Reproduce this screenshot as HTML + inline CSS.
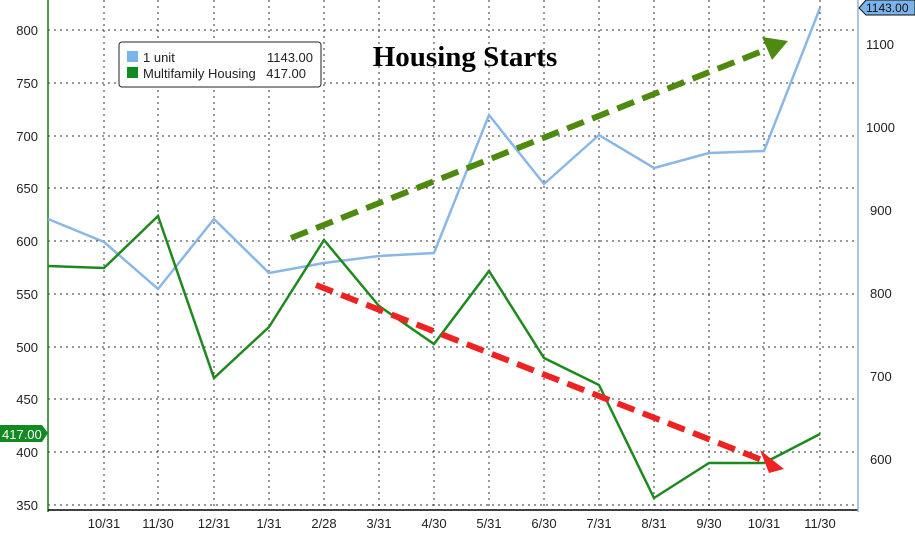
<!DOCTYPE html>
<html><head><style>body{margin:0;background:#fff}svg{display:block}</style></head><body>
<svg width="915" height="546" xmlns="http://www.w3.org/2000/svg" font-family="Liberation Sans, sans-serif">
<rect width="915" height="546" fill="#fff"/>
<g stroke="#333" stroke-width="1" stroke-dasharray="2,4">
<line x1="48" y1="30" x2="858" y2="30"/><line x1="48" y1="83" x2="858" y2="83"/><line x1="48" y1="136" x2="858" y2="136"/><line x1="48" y1="188" x2="858" y2="188"/><line x1="48" y1="241" x2="858" y2="241"/><line x1="48" y1="294" x2="858" y2="294"/><line x1="48" y1="347" x2="858" y2="347"/><line x1="48" y1="399" x2="858" y2="399"/><line x1="48" y1="452" x2="858" y2="452"/><line x1="48" y1="505" x2="858" y2="505"/>
<line x1="104" y1="0" x2="104" y2="510"/><line x1="158" y1="0" x2="158" y2="510"/><line x1="214" y1="0" x2="214" y2="510"/><line x1="269" y1="0" x2="269" y2="510"/><line x1="324" y1="0" x2="324" y2="510"/><line x1="379" y1="0" x2="379" y2="510"/><line x1="434" y1="0" x2="434" y2="510"/><line x1="489" y1="0" x2="489" y2="510"/><line x1="544" y1="0" x2="544" y2="510"/><line x1="599" y1="0" x2="599" y2="510"/><line x1="654" y1="0" x2="654" y2="510"/><line x1="709" y1="0" x2="709" y2="510"/><line x1="764" y1="0" x2="764" y2="510"/><line x1="820" y1="0" x2="820" y2="510"/>
</g>
<line x1="48" y1="0" x2="48" y2="512" stroke="#1a7a1a" stroke-width="1.5"/>
<line x1="48" y1="510" x2="858" y2="510" stroke="#000" stroke-width="1.5"/>
<line x1="858" y1="0" x2="858" y2="512" stroke="#8ab4e0" stroke-width="1.5"/>
<g font-size="13" fill="#222" text-anchor="end">
<text x="38" y="35">800</text><text x="38" y="88">750</text><text x="38" y="141">700</text><text x="38" y="193">650</text><text x="38" y="246">600</text><text x="38" y="299">550</text><text x="38" y="352">500</text><text x="38" y="404">450</text><text x="38" y="457">400</text><text x="38" y="510">350</text>
</g>
<g font-size="13" fill="#222">
<text x="866" y="49">1100</text><text x="866" y="132">1000</text><text x="870" y="215">900</text><text x="870" y="298">800</text><text x="870" y="381">700</text><text x="870" y="464">600</text>
</g>
<g font-size="13" fill="#222" text-anchor="middle">
<text x="104" y="528">10/31</text><text x="158" y="528">11/30</text><text x="214" y="528">12/31</text><text x="269" y="528">1/31</text><text x="324" y="528">2/28</text><text x="379" y="528">3/31</text><text x="434" y="528">4/30</text><text x="489" y="528">5/31</text><text x="544" y="528">6/30</text><text x="599" y="528">7/31</text><text x="654" y="528">8/31</text><text x="709" y="528">9/30</text><text x="764" y="528">10/31</text><text x="820" y="528">11/30</text>
</g>
<polyline fill="none" stroke="#8ab8e6" stroke-width="2.5" points="48,219 104,242 158,289 214,219 269,273 324,263 379,256 434,253 489,115 544,184 599,135 654,168 709,153 764,151 820,8"/>
<polyline fill="none" stroke="#1e8a1e" stroke-width="2.5" points="48,266 104,268 158,216 214,378 269,327 324,240 379,306 434,344 489,271 544,358 599,385 654,498 709,463 764,463 820,434"/>
<line x1="291" y1="238" x2="770" y2="48" stroke="#4f8a10" stroke-width="6" stroke-dasharray="18,9"/>
<polygon points="788,41 762,37 772,60" fill="#4f8a10"/>
<line x1="316" y1="285" x2="767" y2="462" stroke="#ee2222" stroke-width="6" stroke-dasharray="18,9"/>
<polygon points="784,469 760,450 769,473" fill="#ee2222"/>
<text x="465" y="66" font-family="Liberation Serif, serif" font-weight="bold" font-size="29" text-anchor="middle">Housing Starts</text>
<rect x="119" y="42" width="202" height="45" rx="3" fill="#fff" stroke="#222"/>
<rect x="127" y="51" width="11" height="11" fill="#7ab4ea"/>
<rect x="127" y="67" width="11" height="11" fill="#118a22"/>
<g font-size="13" fill="#222"><text x="143" y="62">1 unit</text><text x="143" y="78">Multifamily Housing</text><text x="313" y="62" text-anchor="end">1143.00</text><text x="306" y="78" text-anchor="end">417.00</text></g>
<polygon points="0,425 42,425 48,433 42,442 0,442" fill="#118a22"/>
<text x="2" y="439" font-size="13" fill="#fff">417.00</text>
<polygon points="866,0 915,0 915,15 866,15 859,8" fill="#7ab4ea" stroke="#111"/>
<text x="866" y="12" font-size="12" fill="#111">1143.00</text>
</svg>
</body></html>
